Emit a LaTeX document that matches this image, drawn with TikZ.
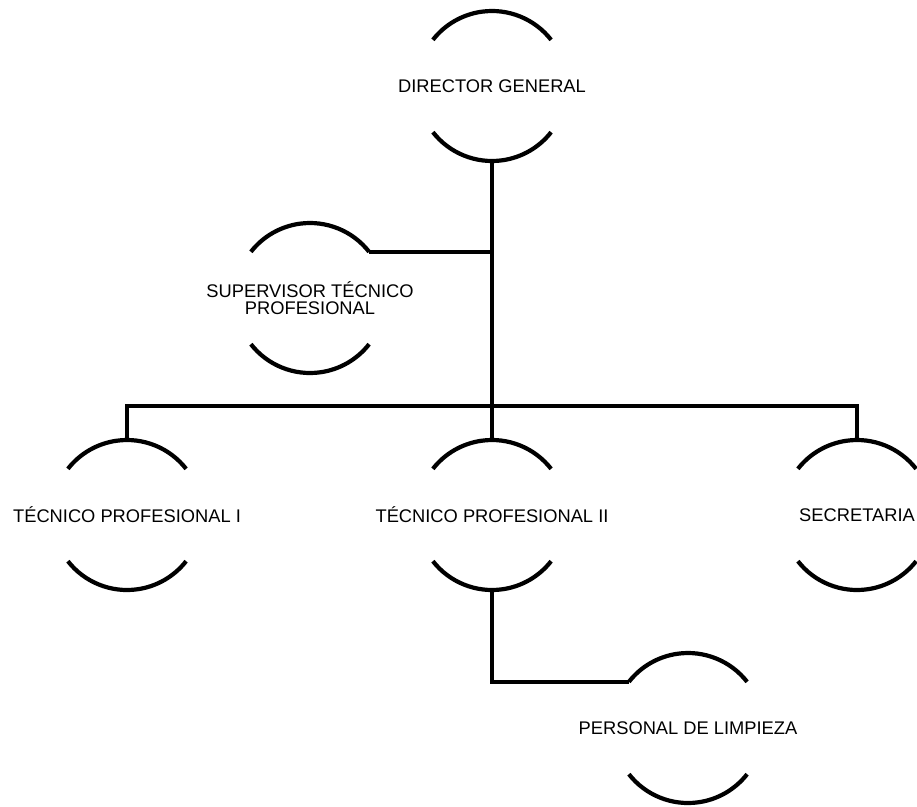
\documentclass[tikz,border=0pt]{standalone}
\usepackage{fontspec}
\setmainfont{Liberation Sans}
\usepackage{tikz}
\usetikzlibrary{calc}

\tikzset{
  puesto/.style={inner sep=0pt, align=center, font=\fontsize{18.3}{17.5}\selectfont},
  linea/.style={line width=4.2pt}
}

\begin{document}
\begin{tikzpicture}[x=1pt,y=1pt]
\useasboundingbox (0,0) rectangle (917,-806);
% % Puestos
 \node[puesto] (dir) at (492,-86) {DIRECTOR GENERAL};
 \node[puesto] (sup) at (310,-298) {SUPERVISOR T\'ECNICO\\PROFESIONAL};
 \node[puesto] (tec1) at (127,-515) {T\'ECNICO PROFESIONAL I};
 \node[puesto] (tec2) at (492,-515) {T\'ECNICO PROFESIONAL II};
 \node[puesto] (sec) at (857,-515) {SECRETARIA};
 \node[puesto] (pers) at (688,-728) {PERSONAL DE LIMPIEZA};
 % arcos arriba y abajo, radio 75
 \foreach \n in {dir,sup,tec1,tec2,sec,pers}{
   \coordinate (\n-n) at ($(\n.center)+(0,75)$);
   \coordinate (\n-s) at ($(\n.center)+(0,-75)$);
   \coordinate (\n-ne) at ($(\n.center)+(38:75)$);
   \coordinate (\n-nw) at ($(\n.center)+(142:75)$);
   \draw[linea] (\n-ne) arc[start angle=38, end angle=142, radius=75];
   \draw[linea] ($(\n.center)+(218:75)$) arc[start angle=218, end angle=322, radius=75];
 }
% % Lineas
 \coordinate (bus) at (492,-406);
 \draw[linea] (dir-s) -- (tec2-n);
 \draw[linea] (sup-ne) -- (sup-ne -| dir-s);
 \draw[linea] (tec1-n) |- (bus) -| (sec-n);
 \draw[linea] (tec2-s) |- (pers-nw);
\end{tikzpicture}
\end{document}
